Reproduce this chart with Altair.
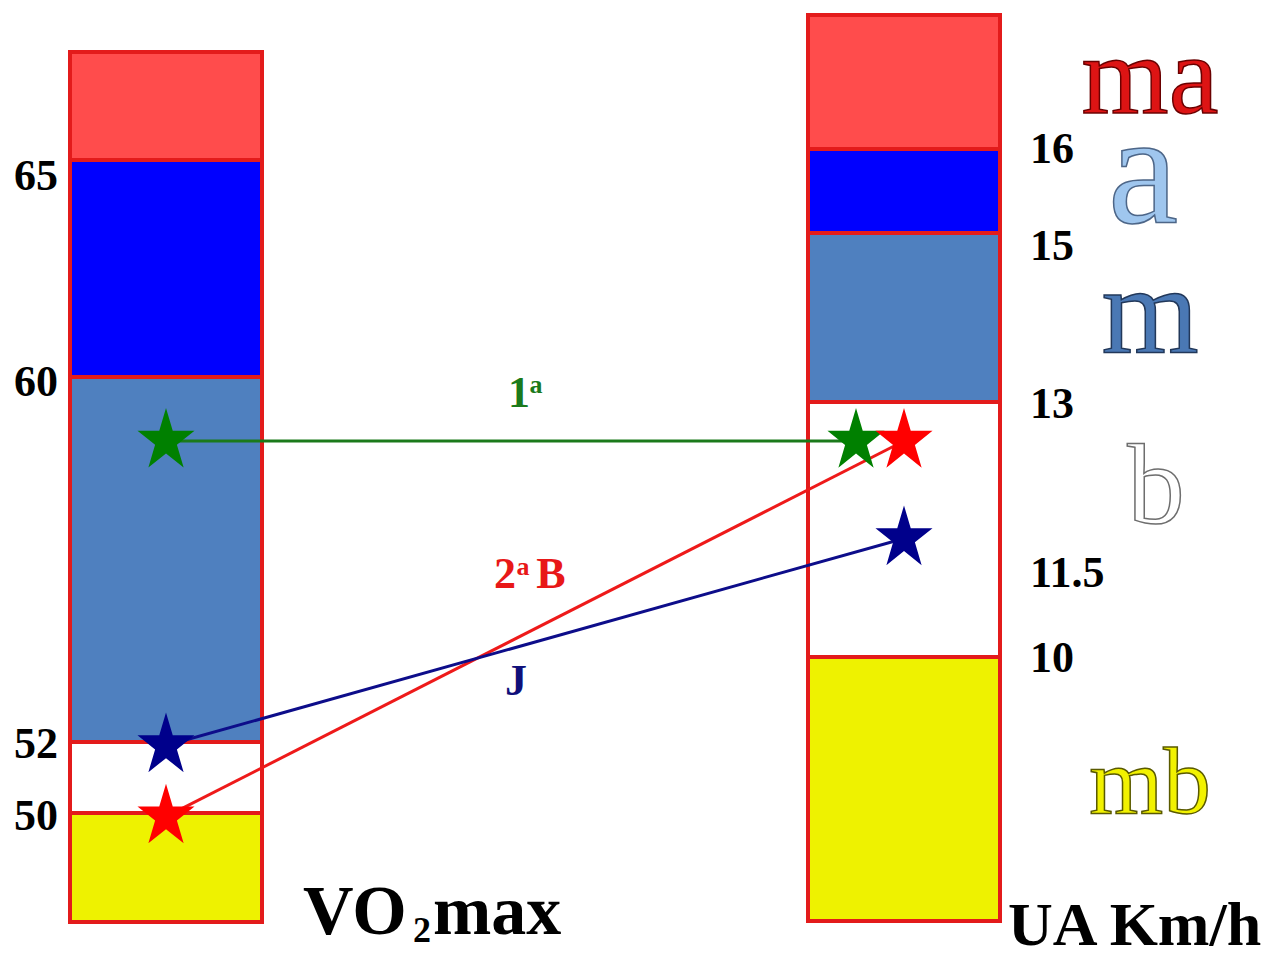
import math
import altair as alt
import numpy as np
import pandas as pd

# ------------------------------------------------------------------ data
VO2_EDGES = [47, 50, 52, 60, 65, 67.5]          # zone limits, bottom -> top
UA_EDGES = [6.9, 10, 13, 15, 16, 17.6]
ZONE_NAMES = ["mb", "b", "m", "a", "ma"]
VO2_TICKS = [50, 52, 60, 65]
UA_TICKS = [10, 11.5, 13, 15, 16]

ATHLETES = ["1ª", "2ªB", "J"]
ATH_VO2 = [58.6, 49.9, 51.9]
ATH_UA = [12.66, 12.66, 11.81]

# ------------------------------------------------------------------ styles
ZONE_FILL = ["#eef200", "#ffffff", "#4f80bf", "#0000ff", "#ff4c4c"]
EDGE_RED = "#e31b1b"
STAR_FILL = ["#008000", "#ff0000", "#00008b"]
LINE_COLOR = ["#1b7a1b", "#ee1a1a", "#0d0d8a"]
LABEL_COLOR = ["#1b7a1b", "#e81818", "#10107a"]
FONT = "Liberation Serif"

# ------------------------------------------------------------------ layout
W, H = 1258, 941
COL_PX = [158, 896]                       # column 0 = VO2max bar, 1 = UA bar
VO2_DOM = [47, 50, 52, 60, 65, 67.5]
VO2_PX = [914, 805, 734, 369, 152, 44]
UA_DOM = [6.9, 10, 11.5, 13, 15, 16, 17.6]
UA_PX = [913, 649, 566, 394, 225, 141, 7]
BAR_HALF_PX = 96
RIGHT_STAR_SHIFT_PX = [-48, 0, 0]
PX_PER_COL = COL_PX[1] - COL_PX[0]


def interp_ext(x, xp, fp):
    xp = np.asarray(xp, float)
    fp = np.asarray(fp, float)
    if xp[0] > xp[-1]:
        xp, fp = xp[::-1], fp[::-1]
    if x < xp[0]:
        return float(fp[0] + (x - xp[0]) * (fp[1] - fp[0]) / (xp[1] - xp[0]))
    if x > xp[-1]:
        return float(fp[-1] + (x - xp[-1]) * (fp[-1] - fp[-2]) / (xp[-1] - xp[-2]))
    return float(np.interp(x, xp, fp))


def vo2_px(v):
    return interp_ext(v, VO2_DOM, VO2_PX)


def vo2_val(px):
    return interp_ext(px, VO2_PX, VO2_DOM)


def ua_px(v):
    return interp_ext(v, UA_DOM, UA_PX)


def ua_val(px):
    return interp_ext(px, UA_PX, UA_DOM)


def col_off(px):
    return px / PX_PER_COL


XS = alt.Scale(domain=[0, 1], range=COL_PX, nice=False, zero=False)
YL = alt.Scale(type="linear", domain=VO2_DOM, range=VO2_PX, nice=False, zero=False)
YU = alt.Scale(type="linear", domain=UA_DOM, range=UA_PX, nice=False, zero=False)

# ------------------------------------------------------------------ tables
half = col_off(BAR_HALF_PX)
left_bar = pd.DataFrame({
    "x0": [-half] * 5, "x1": [half] * 5,
    "lo": VO2_EDGES[:-1], "hi": VO2_EDGES[1:], "fill": ZONE_FILL,
})
right_bar = pd.DataFrame({
    "x0": [1 - half] * 5, "x1": [1 + half] * 5,
    "lo": UA_EDGES[:-1], "hi": UA_EDGES[1:], "fill": ZONE_FILL,
})

right_x = [1 + col_off(s) for s in RIGHT_STAR_SHIFT_PX]
links = pd.DataFrame({
    "name": ATHLETES,
    "x0": [0.0] * 3,
    "y0": ATH_VO2,
    "x1": right_x,
    "y1": [vo2_val(ua_px(u)) for u in ATH_UA],
    "line": LINE_COLOR,
})
left_stars = pd.DataFrame({"name": ATHLETES, "x": [0.0] * 3, "y": ATH_VO2, "c": STAR_FILL})
right_stars = pd.DataFrame({"name": ATHLETES, "x": right_x, "y": ATH_UA, "c": STAR_FILL})

# star symbol path (unit box), slightly taller than wide like the original
pts = []
for i in range(10):
    r = 1.0 if i % 2 == 0 else 0.382
    a = -math.pi / 2 + i * math.pi / 5
    pts.append(f"{r * math.cos(a):.4f},{1.1 * r * math.sin(a):.4f}")
STAR = "M" + "L".join(pts) + "Z"

# tick labels
LEFT_TICK_DY = [4, 3, 6, 17]
left_ticks = pd.DataFrame({
    "t": [f"{t:g}" for t in VO2_TICKS],
    "x": [col_off(-108)] * len(VO2_TICKS),
    "y": [vo2_val(vo2_px(t) + d) for t, d in zip(VO2_TICKS, LEFT_TICK_DY)],
})
RIGHT_TICK_DY = [2, 0, 3, 14, 1]
right_ticks = pd.DataFrame({
    "t": [f"{t:g}" for t in UA_TICKS],
    "x": [1 + col_off(126)] * len(UA_TICKS),
    "y": [ua_val(ua_px(t) + d) for t, d in zip(UA_TICKS, RIGHT_TICK_DY)],
})

# zone names (mb, b, m, a, ma)
ZN_SIZE = [95, 115, 125, 158, 112]
ZN_FILL = ["#f2f200", "#ffffff", "#4a78b4", "#9fc6ee", "#dd1414"]
ZN_STROKE = ["#5a5a00", "#6e6e6e", "#22385a", "#4d6688", "#6a0000"]
ZN_DX = [246, 252, 246, 239, 246]
ZN_DY = [24, -51, 34, 31, 31]
zone_mid = [(a + b) / 2 for a, b in zip(UA_EDGES[:-1], UA_EDGES[1:])]
zone_names = pd.DataFrame({
    "t": ZONE_NAMES,
    "x": [1 + col_off(d) for d in ZN_DX],
    "y": [ua_val(ua_px(m) + d) for m, d in zip(zone_mid, ZN_DY)],
    "fs": ZN_SIZE, "fill": ZN_FILL, "stroke": ZN_STROKE,
})

# labels of the links, split into parts (text, size, dx, dy) around line middle
LINK_PARTS = [
    [("1", 44, 8, -47), ("a", 26, 25, -56)],
    [("2", 44, -30, -54), ("a", 26, -12, -62), ("B", 44, 16, -54)],
    [("J", 44, -19, 40)],
]
rows = []
for i, parts in enumerate(LINK_PARTS):
    lx, ly = COL_PX[0], vo2_px(ATH_VO2[i])
    rx, ry = COL_PX[1] + RIGHT_STAR_SHIFT_PX[i], ua_px(ATH_UA[i])
    mx, my = (lx + rx) / 2, (ly + ry) / 2
    for t, fs, dx, dy in parts:
        rows.append({"t": t, "fs": fs, "c": LABEL_COLOR[i],
                     "x": (mx + dx - COL_PX[0]) / PX_PER_COL,
                     "y": vo2_val(my + dy)})
link_labels = pd.DataFrame(rows)

# axis titles
VO2_TITLE = [("VO", 70, 137, 12), ("2", 36, 247, 20), ("max", 70, 267, 12)]
vo2_title = pd.DataFrame({
    "t": [p[0] for p in VO2_TITLE],
    "fs": [p[1] for p in VO2_TITLE],
    "x": [col_off(p[2]) for p in VO2_TITLE],
    "y": [vo2_val(vo2_px(VO2_EDGES[0]) + p[3]) for p in VO2_TITLE],
})
ua_title = pd.DataFrame({
    "t": ["UA Km/h"],
    "x": [1 + col_off(104)],
    "y": [ua_val(ua_px(UA_EDGES[0]) + 24)],
})

# ------------------------------------------------------------------ layers
def bars(df, ys):
    return alt.Chart(df).mark_rect(stroke=EDGE_RED, strokeWidth=4).encode(
        x=alt.X("x0:Q", scale=XS, axis=None), x2="x1:Q",
        y=alt.Y("lo:Q", scale=ys, axis=None), y2="hi:Q",
        fill=alt.Fill("fill:N", scale=None),
    )


rules = alt.Chart(links).mark_rule(strokeWidth=3).encode(
    x=alt.X("x0:Q", scale=XS, axis=None), x2="x1:Q",
    y=alt.Y("y0:Q", scale=YL, axis=None), y2="y1:Q",
    color=alt.Color("line:N", scale=None),
)


def stars(df, ys):
    return alt.Chart(df).mark_point(shape=STAR, filled=True, size=3600, opacity=1, strokeWidth=0).encode(
        x=alt.X("x:Q", scale=XS, axis=None),
        y=alt.Y("y:Q", scale=ys, axis=None),
        color=alt.Color("c:N", scale=None),
    )


def texts(df, ys, **mk):
    enc = dict(
        x=alt.X("x:Q", scale=XS, axis=None),
        y=alt.Y("y:Q", scale=ys, axis=None),
        text="t:N",
    )
    if "fs" in df.columns:
        enc["size"] = alt.Size("fs:Q", scale=None)
    if "c" in df.columns:
        enc["color"] = alt.Color("c:N", scale=None)
    if "fill" in df.columns:
        enc["fill"] = alt.Fill("fill:N", scale=None)
        enc["stroke"] = alt.Stroke("stroke:N", scale=None)
    return alt.Chart(df).mark_text(font=FONT, **mk).encode(**enc)


layers = [
    bars(left_bar, YL),
    bars(right_bar, YU),
    rules,
    stars(left_stars, YL),
    stars(right_stars, YU),
    texts(left_ticks, YL, fontWeight="bold", fontSize=44, align="right", baseline="middle", color="#000000"),
    texts(right_ticks, YU, fontWeight="bold", fontSize=44, align="left", baseline="middle", color="#000000"),
    texts(zone_names, YU, fontWeight="normal", align="center", baseline="alphabetic", strokeWidth=1.5),
    texts(link_labels, YL, fontWeight="bold", align="center", baseline="middle"),
    texts(vo2_title, YL, fontWeight="bold", align="left", baseline="alphabetic", color="#000000"),
    texts(ua_title, YU, fontWeight="bold", fontSize=62, align="left", baseline="alphabetic", color="#000000"),
]

chart = alt.layer(*layers).resolve_scale(y="independent").properties(
    width=W, height=H,
    autosize=alt.AutoSizeParams(type="none"),
    padding=0,
    background="#ffffff",
).configure_view(stroke=None)

chart.save("out.html", embed_options={"renderer": "svg", "actions": False})
